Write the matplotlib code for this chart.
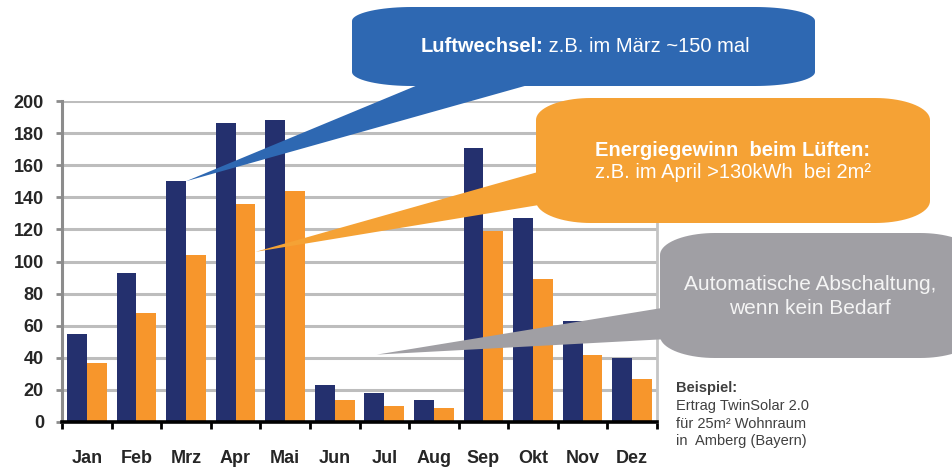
import numpy as np
import matplotlib.pyplot as plt
from matplotlib.patches import Polygon

plt.rcParams['font.family'] = ['Liberation Sans', 'DejaVu Sans']

# Data
months = ['Jan', 'Feb', 'Mrz', 'Apr', 'Mai', 'Jun', 'Jul', 'Aug', 'Sep', 'Okt', 'Nov', 'Dez']
luftwechsel = [55, 93, 150, 186, 188, 23, 18, 14, 171, 127, 63, 40]
energie = [37, 68, 104, 136, 144, 14, 10, 8.5, 119, 89, 42, 27]
yticks = [0, 20, 40, 60, 80, 100, 120, 140, 160, 180, 200]

NAVY = '#24306e'
ORANGE = '#f7962c'
BUBBLE_BLUE = '#2e68b2'
BUBBLE_ORANGE = '#f5a235'
BUBBLE_GRAY = '#a09fa4'

W, H = 952, 467
fig = plt.figure(figsize=(W / 100, H / 100), dpi=100)
fig.patch.set_facecolor('white')

ax = fig.add_axes([62 / W, 45 / H, 595 / W, 321 / H])
x = np.arange(len(months))
ax.bar(x - 0.2, luftwechsel, width=0.4, color=NAVY, zorder=3)
ax.bar(x + 0.2, energie, width=0.4, color=ORANGE, zorder=3)

ax.set_xlim(-0.5, len(months) - 0.5)
ax.set_ylim(0, 200)
ax.set_yticks(yticks)
ax.set_yticklabels([str(v) for v in yticks], fontsize=13, fontweight='bold', color='#262626')
for v in yticks[1:]:
    ax.axhline(v, color='#bdbdbd', lw=2.2, zorder=1)

ax.set_xticks(x)
ax.set_xticklabels(months, fontsize=13, fontweight='bold', color='#262626')
ax.set_xticks(np.arange(len(months) + 1) - 0.5, minor=True)
ax.tick_params(axis='x', which='major', length=0, pad=20)
ax.tick_params(axis='x', which='minor', length=5, width=2, color='black', direction='out')
ax.tick_params(axis='y', length=4, width=2, color='#8c8c8c', pad=9)

ax.spines['top'].set_visible(False)
ax.spines['left'].set_color('#8c8c8c')
ax.spines['left'].set_linewidth(2.2)
ax.spines['right'].set_color('#c4c4c4')
ax.spines['right'].set_linewidth(2)
ax.spines['bottom'].set_color('black')
ax.spines['bottom'].set_linewidth(2.6)
ax.spines['bottom'].set_zorder(4)

# overlay in pixel coordinates for the speech bubbles
ov = fig.add_axes([0, 0, 1, 1], zorder=5)
ov.set_xlim(0, W)
ov.set_ylim(H, 0)
ov.axis('off')
ov.patch.set_alpha(0)


def to_pix(xd, yd):
    dx, dy = ax.transData.transform((xd, yd))
    return dx, H - dy


def bubble(x0, y0, x1, y1, rx, ry, color):
    pts = []
    corners = [(x1 - rx, y0 + ry, -90, 0), (x1 - rx, y1 - ry, 0, 90),
               (x0 + rx, y1 - ry, 90, 180), (x0 + rx, y0 + ry, 180, 270)]
    for cx, cy, a0, a1 in corners:
        t = np.radians(np.linspace(a0, a1, 20))
        pts += list(zip(cx + rx * np.cos(t), cy + ry * np.sin(t)))
    ov.add_patch(Polygon(pts, closed=True, color=color, lw=0))


def tail(p1, p2, tip, color):
    ov.add_patch(Polygon([p1, p2, tip], closed=True, color=color, lw=0))


# blue: Luftwechsel
bubble(352, 7, 815, 86, 60, 14, BUBBLE_BLUE)
tail((430, 80), (546, 80), to_pix(2.0, 150), BUBBLE_BLUE)
# orange: Energiegewinn
bubble(536, 98, 930, 223, 55, 22, BUBBLE_ORANGE)
tail((545, 170), (545, 204), to_pix(3.4, 106), BUBBLE_ORANGE)
# gray: Abschaltung
bubble(660, 233, 975, 358, 55, 22, BUBBLE_GRAY)
tail((668, 307), (668, 339), to_pix(5.85, 42), BUBBLE_GRAY)

renderer = fig.canvas.get_renderer()


def mixed_line(cx, cy, bold_part, normal_part, size):
    tb = ov.text(0, cy, bold_part, fontsize=size, fontweight='bold', color='white',
                 ha='left', va='center')
    tn = ov.text(0, cy, normal_part, fontsize=size, color='white', ha='left', va='center')
    wb = tb.get_window_extent(renderer).width
    wn = tn.get_window_extent(renderer).width
    left = cx - (wb + wn) / 2
    tb.set_x(left)
    tn.set_x(left + wb)


mixed_line(585, 46, 'Luftwechsel:', ' z.B. im März ~150 mal', 14.5)
ov.text(733, 150, 'Energiegewinn  beim Lüften:', fontsize=14.5, fontweight='bold',
        color='white', ha='center', va='center')
ov.text(733, 173, 'z.B. im April >130kWh  bei 2m²', fontsize=14.5,
        color='white', ha='center', va='center')
ov.text(810, 285, 'Automatische Abschaltung,', fontsize=15, color='#f4f4f4',
        ha='center', va='center')
ov.text(810, 308, 'wenn kein Bedarf', fontsize=15, color='#f4f4f4',
        ha='center', va='center')

ov.text(676, 388, 'Beispiel:', fontsize=10.5, fontweight='bold', color='#404040',
        ha='left', va='center')
for i, line in enumerate(['Ertrag TwinSolar 2.0', 'für 25m² Wohnraum', 'in  Amberg (Bayern)']):
    ov.text(676, 406 + i * 17.5, line, fontsize=10.5, color='#404040', ha='left', va='center')

fig.savefig('out.png', dpi=100, facecolor='white')
